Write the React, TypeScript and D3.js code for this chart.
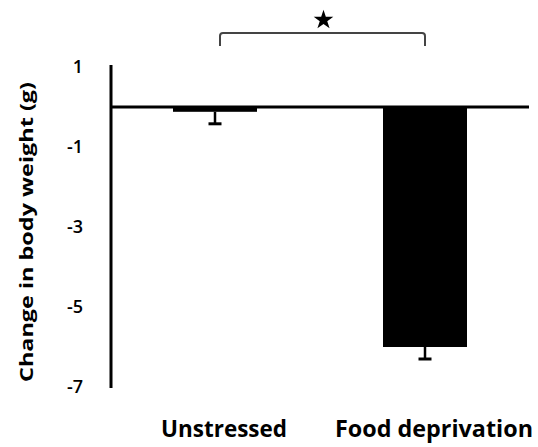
import React, { useEffect, useRef } from "react";
import * as d3 from "d3";

const categories = ["Unstressed", "Food deprivation"];
const means = [-0.12, -6.0];
const errors = [0.3, 0.3];
const yTicks = [1, -1, -3, -5, -7];
const yLabel = "Change in body weight (g)";

const W = 538;
const H = 447;

export default function App() {
  const ref = useRef<SVGSVGElement>(null);

  useEffect(() => {
    const svg = d3.select(ref.current);
    svg.selectAll("*").remove();

    const font = "'Open Sans', 'DejaVu Sans', sans-serif";
    const axisX = 111;

    const y = d3.scaleLinear().domain([1, -7]).range([67, 387]);
    const x = d3.scaleBand().domain(categories).range([173, 467]).paddingInner(0.6).paddingOuter(0);
    const cx = (c: string) => x(c)! + x.bandwidth() / 2;

    const data = categories.map((c, i) => ({ cat: c, mean: means[i], err: errors[i] }));

    // bars
    svg.selectAll(".bar")
      .data(data)
      .join("rect")
      .attr("class", "bar")
      .attr("x", d => x(d.cat)!)
      .attr("width", x.bandwidth())
      .attr("y", y(0))
      .attr("height", d => y(d.mean) - y(0))
      .attr("fill", "#000");

    // error bars (downward only)
    const eb = svg.selectAll(".err").data(data).join("g").attr("class", "err");
    eb.append("line")
      .attr("x1", d => cx(d.cat))
      .attr("x2", d => cx(d.cat))
      .attr("y1", d => y(d.mean))
      .attr("y2", d => y(d.mean - d.err))
      .attr("stroke", "#000")
      .attr("stroke-width", 2.5);
    eb.append("line")
      .attr("x1", d => cx(d.cat) - 6.5)
      .attr("x2", d => cx(d.cat) + 6.5)
      .attr("y1", d => y(d.mean - d.err))
      .attr("y2", d => y(d.mean - d.err))
      .attr("stroke", "#000")
      .attr("stroke-width", 3);

    // zero line
    svg.append("line")
      .attr("x1", axisX)
      .attr("x2", 529)
      .attr("y1", y(0))
      .attr("y2", y(0))
      .attr("stroke", "#000")
      .attr("stroke-width", 3);

    // y axis line
    svg.append("line")
      .attr("x1", axisX)
      .attr("x2", axisX)
      .attr("y1", y(1) - 2)
      .attr("y2", y(-7) + 1)
      .attr("stroke", "#000")
      .attr("stroke-width", 3);

    // tick labels
    svg.selectAll(".ytick")
      .data(yTicks)
      .join("text")
      .attr("class", "ytick")
      .attr("x", 83)
      .attr("y", d => y(d))
      .attr("dy", "0.35em")
      .attr("text-anchor", "end")
      .style("font-family", font)
      .style("font-size", "18px")
      .style("font-weight", 600)
      .text(d => d);

    // category labels
    const labW = [126, 198];
    svg.selectAll(".xlab")
      .data(categories)
      .join("text")
      .attr("class", "xlab")
      .attr("x", d => cx(d) + 9)
      .attr("y", 437)
      .attr("text-anchor", "middle")
      .attr("textLength", (d, i) => labW[i])
      .attr("lengthAdjust", "spacingAndGlyphs")
      .style("font-family", font)
      .style("font-size", "23px")
      .style("font-weight", "bold")
      .text(d => d);

    // y axis title
    svg.append("text")
      .attr("transform", `translate(33, ${232}) rotate(-90)`)
      .attr("text-anchor", "middle")
      .attr("textLength", 300)
      .attr("lengthAdjust", "spacingAndGlyphs")
      .style("font-family", font)
      .style("font-size", "18px")
      .style("font-weight", "bold")
      .text(yLabel);

    // significance bracket
    const x1 = cx(categories[0]) + 5;
    const x2 = cx(categories[1]);
    const top = 33, drop = 13, r = 3;
    svg.append("path")
      .attr("d", `M${x1},${top + drop} L${x1},${top + r} Q${x1},${top} ${x1 + r},${top} L${x2 - r},${top} Q${x2},${top} ${x2},${top + r} L${x2},${top + drop}`)
      .attr("fill", "none")
      .attr("stroke", "#444")
      .attr("stroke-width", 2);

    const star = d3.symbol().type(d3.symbolStar).size(120);
    svg.append("path")
      .attr("d", star()!)
      .attr("transform", `translate(${(x1 + x2) / 2 + 1}, 20)`)
      .attr("fill", "#000");
  }, []);

  return (
    <svg
      ref={ref}
      width={W}
      height={H}
      style={{ position: "absolute", left: 0, top: 0, background: "#fff" }}
    />
  );
}
